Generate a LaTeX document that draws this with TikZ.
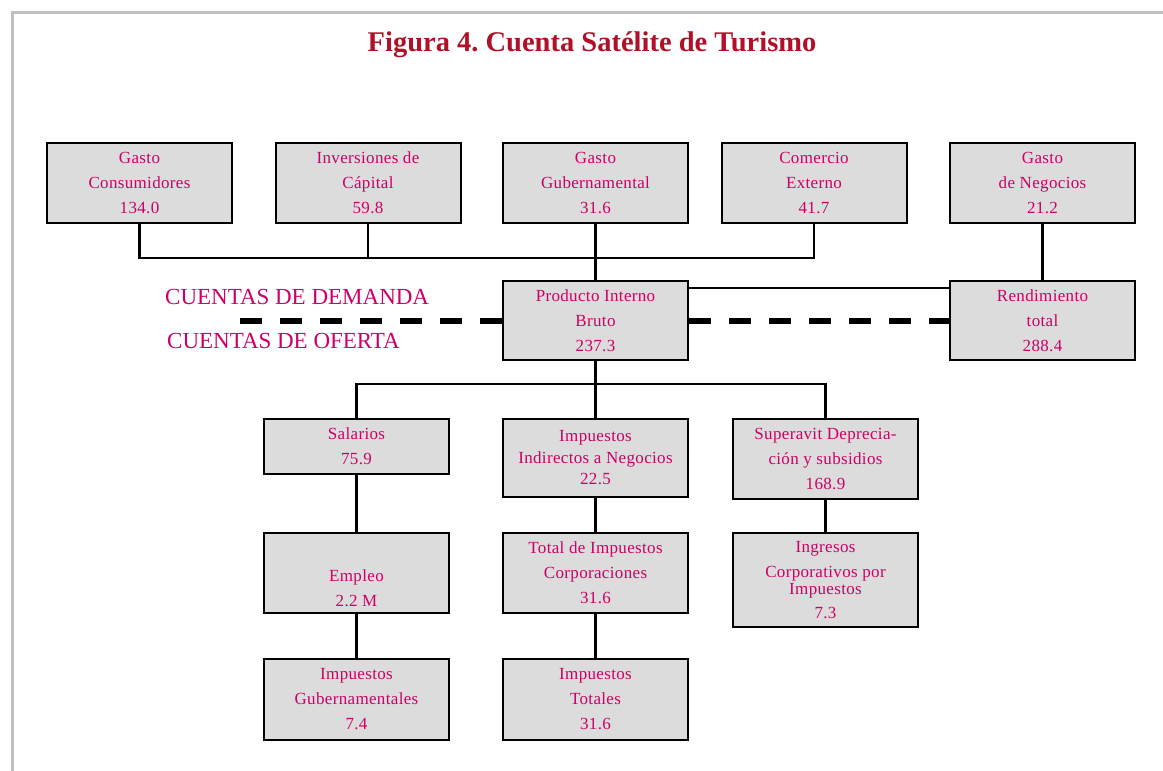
\documentclass[tikz,border=0pt]{standalone}
\usepackage{fontspec}
\setmainfont{Liberation Serif}
\newfontfamily\boxfont[LetterSpace=2]{Liberation Serif}

\begin{document}
\begin{tikzpicture}[
  x=1pt,y=-1pt,
  box/.style={draw=black,fill=boxgray,line width=2pt,
    minimum width=185pt,minimum height=#1,inner sep=0pt,
    align=center,text=txtmag,font=\boxfont\fontsize{17}{25}\selectfont},
  box/.default=80pt,
  link/.style={line width=2.5pt},
  split/.style={line width=6pt,dash pattern=on 22pt off 18pt},
  side/.style={text=txtmag,font=\fontsize{23}{26}\selectfont,
    anchor=base west,inner sep=0pt}]

  \definecolor{boxgray}{RGB}{220,220,220}
  \definecolor{txtmag}{RGB}{204,0,102}
  \definecolor{titred}{RGB}{176,16,40}
  \definecolor{framegray}{RGB}{192,192,192}

  \useasboundingbox (0,0) rectangle (1163,771);

  % frame
  \draw[framegray,line width=3pt] (12,771) -- (12,12) -- (1163,12);

  % title
  \node[text=titred,font=\bfseries\fontsize{28.5}{32}\selectfont] (title)
    at (592,45) {Figura 4.\ Cuenta Satélite de Turismo};

  % demand side
  \node[box] (gcons)  at (139.5,183) {Gasto\\Consumidores\\134.0};
  \node[box] (invcap) at (368,183)   {Inversiones de\\Cápital\\59.8};
  \node[box] (ggob)   at (595.5,183) {Gasto\\Gubernamental\\31.6};
  \node[box] (comext) at (814,183)   {Comercio\\Externo\\41.7};
  \node[box] (gneg)   at (1042.5,183) {Gasto\\de Negocios\\21.2};

  \node[box=79pt] (pib)  at (595.5,320.5)  {Producto Interno\\Bruto\\237.3};
  \node[box=79pt] (rend) at (1042.5,320.5) {Rendimiento\\total\\288.4};

  \node[side] (demanda) at (165,304) {CUENTAS DE DEMANDA};
  \node[side] (oferta)  at (167,348) {CUENTAS DE OFERTA};

  % supply side
  \node[box=55pt] (sal) at (356.5,446.5) {Salarios\\75.9};
  \node[box=78pt] (impind) at (595.5,458)
    {Impuestos\\[-3.5pt]Indirectos a Negocios\\[-3.5pt]22.5};
  \node[box] (superav) at (825.5,459) {Superavit Deprecia-\\ción y subsidios\\168.9};

  \node[box] (empleo) at (356.5,573) {\strut\\Empleo\\2.2 M};
  \node[box] (totimp) at (595.5,573) {Total de Impuestos\\Corporaciones\\31.6};
  \node[box=94pt] (ingcorp) at (825.5,580)
    {Ingresos\\Corporativos por\\[-8pt]Impuestos\\[-1pt]7.3};

  \node[box=81pt] (impgob) at (356.5,699.5) {Impuestos\\Gubernamentales\\7.4};
  \node[box=81pt] (imptot) at (595.5,699.5) {Impuestos\\Totales\\31.6};

  % upper links
  \coordinate (dbus) at (595.5,258);
  \draw[link] (gcons.south) |- (dbus) -| (comext.south);
  \draw[link] (invcap.south) -- (invcap.south |- dbus);
  \draw[link] (ggob.south) -- (pib.north);
  \draw[link] (gneg.south) -- (rend.north);
  \draw[line width=2pt] ([yshift=-8pt]pib.north east) -- ([yshift=-8pt]rend.north west);

  % demand / supply divide
  \coordinate (dashl) at (240,320.5);
  \draw[split] (dashl) -- (pib.west);
  \draw[split] (pib.east) -- (rend.west);

  % lower links
  \coordinate (obus) at (595.5,384);
  \draw[link] (pib.south) -- (impind.north);
  \draw[link] (sal.north) |- (obus) -| (superav.north);
  \draw[link] (sal.south) -- (empleo.north);
  \draw[link] (empleo.south) -- (impgob.north);
  \draw[link] (impind.south) -- (totimp.north);
  \draw[link] (totimp.south) -- (imptot.north);
  \draw[link] (superav.south) -- (ingcorp.north);
\end{tikzpicture}
\end{document}
